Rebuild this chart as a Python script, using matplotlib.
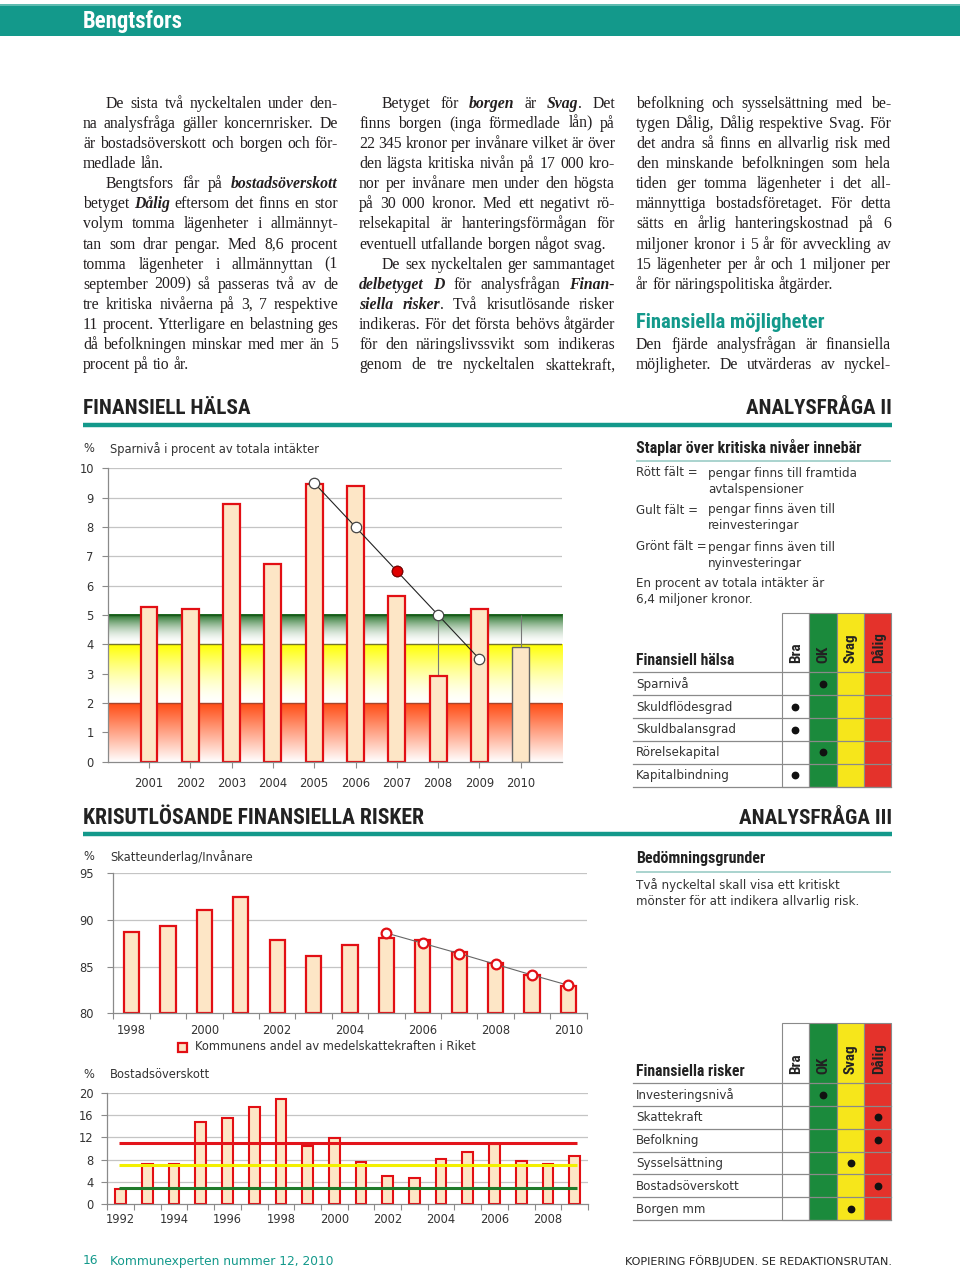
import numpy as np
import matplotlib
matplotlib.use("Agg")
import matplotlib.pyplot as plt
from matplotlib.patches import Rectangle
from matplotlib.font_manager import FontProperties, fontManager
from matplotlib import colors as mcolors

# ------------------------------------------------------------------ data
spar_years = [2001, 2002, 2003, 2004, 2005, 2006, 2007, 2008, 2009, 2010]
spar_values = [5.28, 5.19, 8.78, 6.74, 9.45, 9.41, 5.66, 2.92, 5.19, 3.90]
spar_trend_years = [2005, 2006, 2007, 2008, 2009]
spar_trend_values = [9.5, 8.0, 6.5, 5.0, 3.5]
spar_highlight_year = 2007
spar_drop_years = [2008, 2010]
spar_levels = [2, 4, 5]
spar_yticks = [0, 1, 2, 3, 4, 5, 6, 7, 8, 9, 10]

skatt_years = [1998, 1999, 2000, 2001, 2002, 2003, 2004, 2005, 2006, 2007, 2008, 2009, 2010]
skatt_values = [88.7, 89.4, 91.1, 92.5, 87.9, 86.1, 87.3, 88.1, 87.9, 86.6, 85.4, 84.1, 82.9]
skatt_trend_years = [2005, 2006, 2007, 2008, 2009, 2010]
skatt_trend_values = [88.6, 87.5, 86.4, 85.25, 84.1, 83.0]
skatt_yticks = [80, 85, 90, 95]
skatt_xlabels = [1998, 2000, 2002, 2004, 2006, 2008, 2010]

bost_years = [1992, 1993, 1994, 1995, 1996, 1997, 1998, 1999, 2000,
              2001, 2002, 2003, 2004, 2005, 2006, 2007, 2008, 2009]
bost_values = [2.7, 7.2, 7.2, 14.8, 15.4, 17.4, 18.9, 10.4, 11.9,
               7.5, 5.0, 4.7, 8.1, 9.4, 10.8, 7.8, 7.2, 8.6]
bost_levels = [11, 7, 3]
bost_yticks = [0, 4, 8, 12, 16, 20]
bost_xlabels = [1992, 1994, 1996, 1998, 2000, 2002, 2004, 2006, 2008]

rating_cols = ["Bra", "OK", "Svag", "Dålig"]
halsa_rows = ["Sparnivå", "Skuldflödesgrad", "Skuldbalansgrad", "Rörelsekapital", "Kapitalbindning"]
halsa_ratings = ["OK", "Bra", "Bra", "OK", "Bra"]
risk_rows = ["Investeringsnivå", "Skattekraft", "Befolkning", "Sysselsättning", "Bostadsöverskott", "Borgen mm"]
risk_ratings = ["OK", "Dålig", "Dålig", "Svag", "Dålig", "Svag"]

# ------------------------------------------------------------------ style
W, H = 960, 1270
TEAL = "#13998b"
TXT = "#231f20"
CTXT = "#333333"
BAR_FILL = "#fde6c6"
BAR_EDGE = "#e20f14"
GRID = "#c4c4c4"
CFONT = "DejaVu Sans"
CSIZE = 8.3
SERIF = "Liberation Serif"
BODY = 11.3

# pick the narrowest available bold sans for headings
_avail = {(f.name, f.stretch) for f in fontManager.ttflist}
_names = {n for n, _ in _avail}
if "Liberation Sans Narrow" in _names:
    NB = dict(fontfamily="Liberation Sans Narrow", fontweight="bold")
elif "Roboto Condensed" in _names:
    NB = dict(fontfamily="Roboto Condensed", fontweight="bold")
elif ("DejaVu Sans", "condensed") in _avail:
    NB = dict(fontfamily="DejaVu Sans", fontstretch="condensed", fontweight="bold")
else:
    NB = dict(fontfamily="Roboto", fontweight="bold")

fig = plt.figure(figsize=(W / 100, H / 100), dpi=100)
ov = fig.add_axes([0, 0, 1, 1])
ov.set_xlim(0, W)
ov.set_ylim(H, 0)
ov.axis("off")
renderer = fig.canvas.get_renderer()


def rect_px(l, t, r, b):
    return [l / W, 1 - b / H, (r - l) / W, (b - t) / H]


def hline(x0, x1, y, color, lw):
    ov.plot([x0, x1], [y, y], color=color, lw=lw, solid_capstyle="butt")


def fit_size(s, target, **kw):
    t = ov.text(0, 0, s, fontsize=10, **kw)
    w = t.get_window_extent(renderer=renderer).width
    t.remove()
    return 10 * target / w


def fit_text(x, y, s, target, ha="left", color="#222", **kw):
    size = fit_size(s, target, **NB)
    return ov.text(x, y, s, fontsize=size, ha=ha, va="center", color=color, **NB, **kw)


# ------------------------------------------------------------------ header
ov.add_patch(Rectangle((0, 4), W, 32, fc=TEAL, ec="none"))
hline(0, W, 4.5, "#6fc2b8", 1.2)
fit_text(83, 21.5, "Bengtsfors", 100, color="white")

# ------------------------------------------------------------------ body text
fp_reg = FontProperties(family=SERIF, size=BODY)
fp_bi = FontProperties(family=SERIF, size=BODY, weight="bold", style="italic")


def measure(s, fp):
    t = ov.text(0, 0, s, fontproperties=fp)
    w = t.get_window_extent(renderer=renderer).width
    t.remove()
    return w


space_w = measure("a a", fp_reg) - measure("aa", fp_reg)


def parse_words(line):
    words, cur, buf, bold = [], [], "", False
    for ch in line:
        if ch == "*":
            if buf:
                cur.append((buf, bold))
                buf = ""
            bold = not bold
        elif ch == " ":
            if buf:
                cur.append((buf, bold))
                buf = ""
            if cur:
                words.append(cur)
                cur = []
        else:
            buf += ch
    if buf:
        cur.append((buf, bold))
    if cur:
        words.append(cur)
    return words


def draw_line(x0, x1, yb, line, indent, justify):
    words = parse_words(line)
    widths = [[measure(s, fp_bi if b else fp_reg) for s, b in w] for w in words]
    totals = [sum(ws) for ws in widths]
    x = x0 + (23 if indent else 0)
    if justify and len(words) > 1:
        gap = (x1 - x - sum(totals)) / (len(words) - 1)
        gap = max(gap, space_w * 0.4)
    else:
        gap = space_w
    for w, ws in zip(words, widths):
        for (s, b), wi in zip(w, ws):
            ov.text(x, yb, s, fontproperties=(fp_bi if b else fp_reg), ha="left",
                    va="baseline", color=TXT)
            x += wi
        x += gap


col1 = [
    ("De sista två nyckeltalen under den-", True, True),
    ("na analysfråga gäller koncernrisker. De", False, True),
    ("är bostadsöverskott och borgen och för-", False, True),
    ("medlade lån.", False, False),
    ("Bengtsfors får på *bostadsöverskott*", True, True),
    ("betyget *Dålig* eftersom det finns en stor", False, True),
    ("volym tomma lägenheter i allmännyt-", False, True),
    ("tan som drar pengar. Med 8,6 procent", False, True),
    ("tomma lägenheter i allmännyttan (1", False, True),
    ("september 2009) så passeras två av de", False, True),
    ("tre kritiska nivåerna på 3, 7 respektive", False, True),
    ("11 procent. Ytterligare en belastning ges", False, True),
    ("då befolkningen minskar med mer än 5", False, True),
    ("procent på tio år.", False, False),
]
col2 = [
    ("Betyget för *borgen* är *Svag*. Det", True, True),
    ("finns borgen (inga förmedlade lån) på", False, True),
    ("22 345 kronor per invånare vilket är över", False, True),
    ("den lägsta kritiska nivån på 17 000 kro-", False, True),
    ("nor per invånare men under den högsta", False, True),
    ("på 30 000 kronor. Med ett negativt rö-", False, True),
    ("relsekapital är hanteringsförmågan för", False, True),
    ("eventuell utfallande borgen något svag.", False, False),
    ("De sex nyckeltalen ger sammantaget", True, True),
    ("*delbetyget D* för analysfrågan *Finan-*", False, True),
    ("*siella risker*. Två krisutlösande risker", False, True),
    ("indikeras. För det första behövs åtgärder", False, True),
    ("för den näringslivssvikt som indikeras", False, True),
    ("genom de tre nyckeltalen skattekraft,", False, True),
]
col3 = [
    ("befolkning och sysselsättning med be-", False, True),
    ("tygen Dålig, Dålig respektive Svag. För", False, True),
    ("det andra så finns en allvarlig risk med", False, True),
    ("den minskande befolkningen som hela", False, True),
    ("tiden ger tomma lägenheter i det all-", False, True),
    ("männyttiga bostadsföretaget. För detta", False, True),
    ("sätts en årlig hanteringskostnad på 6", False, True),
    ("miljoner kronor i 5 år för avveckling av", False, True),
    ("15 lägenheter per år och 1 miljoner per", False, True),
    ("år för näringspolitiska åtgärder.", False, False),
]
col3b = [
    ("Den fjärde analysfrågan är finansiella", False, True),
    ("möjligheter. De utvärderas av nyckel-", False, True),
]

LS = 20.15
B0 = 107.5
for (x0, x1), lines in [((83, 338), col1), ((359, 615), col2), ((636, 891), col3)]:
    for i, (ln, ind, just) in enumerate(lines):
        draw_line(x0, x1, B0 + i * LS, ln, ind, just)
fit_text(636, 323, "Finansiella möjligheter", 189, color=TEAL)
for i, (ln, ind, just) in enumerate(col3b):
    draw_line(636, 891, B0 + (12 + i) * LS, ln, ind, just)


# ------------------------------------------------------------------ section headings
def section(y, left, lw_, right, rw_, rule_y):
    fit_text(83, y, left, lw_)
    fit_text(892, y, right, rw_, ha="right")
    hline(83, 892, rule_y, TEAL, 3.2)


section(408, "FINANSIELL HÄLSA", 167, "ANALYSFRÅGA II", 145, 425)
section(818, "KRISUTLÖSANDE FINANSIELLA RISKER", 340, "ANALYSFRÅGA III", 152, 833.5)


def style_axis(ax):
    ax.set_facecolor("none")
    for s in ["top", "right"]:
        ax.spines[s].set_visible(False)
    for s in ["left", "bottom"]:
        ax.spines[s].set_color("#8a8a8a")
        ax.spines[s].set_linewidth(0.9)
    ax.tick_params(axis="both", which="both", colors="#8a8a8a", labelcolor=CTXT,
                   labelsize=CSIZE, direction="out", length=4, width=0.8)
    for lab in ax.get_xticklabels() + ax.get_yticklabels():
        lab.set_fontfamily(CFONT)


# ------------------------------------------------------------------ chart 1
ov.text(83, 449, "%", fontfamily=CFONT, fontsize=CSIZE, color=CTXT, va="center")
ov.text(110, 449, "Sparnivå i procent av totala intäkter", fontfamily=CFONT,
        fontsize=CSIZE, color=CTXT, va="center")
ax1 = fig.add_axes(rect_px(107.7, 468.3, 562, 761.7))
x1lim = (spar_years[0] - 1, spar_years[-1] + 1)


def band(ax, lo, hi, color, power, xl):
    t = np.linspace(0, 1, 200) ** power
    rgb = np.array(mcolors.to_rgb(color))
    img = (1 - t[:, None]) + t[:, None] * rgb[None, :]
    ax.imshow(img[:, None, :], extent=(xl[0], xl[1], lo, hi), origin="lower",
              aspect="auto", zorder=0.5, interpolation="bilinear")


band_styles = [("#ff4c14", 1.0, "#a8452a"), ("#ffff00", 1.5, "#77772a"), ("#1b6b1f", 1.8, "#1b5a1d")]
lows = [0] + spar_levels[:-1]
for lo, hi, (c, p, lc) in zip(lows, spar_levels, band_styles):
    band(ax1, lo, hi, c, p, x1lim)
    ax1.axhline(hi, color=lc, lw=1.0, zorder=0.8)
for yv in spar_yticks:
    if yv > spar_levels[-1]:
        ax1.axhline(yv, color=GRID, lw=0.9, zorder=0.3)
bar_edges = [BAR_EDGE] * (len(spar_years) - 1) + ["#666666"]
bar_lws = [1.6] * (len(spar_years) - 1) + [1.0]
ax1.bar(spar_years, spar_values, width=0.41, color=BAR_FILL, edgecolor=bar_edges,
        linewidth=bar_lws, zorder=2)
for yr in spar_drop_years:
    ax1.vlines(yr, spar_values[spar_years.index(yr)], spar_levels[-1], color="#777",
               lw=0.8, zorder=1.5)
ax1.plot(spar_trend_years, spar_trend_values, color="#222", lw=0.8, zorder=3)
ax1.plot(spar_trend_years, spar_trend_values, "o", ms=7.5, mfc="white", mec="#444",
         mew=0.9, zorder=4)
hi_idx = spar_trend_years.index(spar_highlight_year)
ax1.plot([spar_highlight_year], [spar_trend_values[hi_idx]], "o", ms=7.5, mfc="#e00000",
         mec="#800", mew=0.9, zorder=5)
ax1.set_xlim(*x1lim)
ax1.set_ylim(0, 10)
ax1.set_yticks(spar_yticks)
ax1.set_xticks(spar_years)
ax1.set_xticklabels([str(y) for y in spar_years])
style_axis(ax1)
ax1.tick_params(axis="x", pad=7)
ax1.tick_params(axis="y", pad=6)

# ------------------------------------------------------------------ panel text
PS = 8.6
fit_text(636, 447, "Staplar över kritiska nivåer innebär", 226)
hline(636, 891, 460.5, "#a9d3ce", 1.4)
panel = [
    (473, "Rött fält =", "pengar finns till framtida"),
    (489, "", "avtalspensioner"),
    (510, "Gult fält =", "pengar finns även till"),
    (526, "", "reinvesteringar"),
    (547, "Grönt fält =", "pengar finns även till"),
    (563, "", "nyinvesteringar"),
]
for y, a, b in panel:
    if a:
        ov.text(636, y, a, fontfamily=CFONT, fontsize=PS, color=CTXT, va="center")
    ov.text(708, y, b, fontfamily=CFONT, fontsize=PS, color=CTXT, va="center")
ov.text(636, 583, "En procent av totala intäkter är", fontfamily=CFONT, fontsize=PS,
        color=CTXT, va="center")
ov.text(636, 600, "6,4 miljoner kronor.", fontfamily=CFONT, fontsize=PS, color=CTXT,
        va="center")

fit_text(636, 858, "Bedömningsgrunder", 130)
hline(636, 891, 872, "#a9d3ce", 1.4)
ov.text(636, 885, "Två nyckeltal skall visa ett kritiskt", fontfamily=CFONT, fontsize=PS,
        color=CTXT, va="center")
ov.text(636, 901, "mönster för att indikera allvarlig risk.", fontfamily=CFONT,
        fontsize=PS, color=CTXT, va="center")

# ------------------------------------------------------------------ tables
ROT_SIZE = fit_size("Dålig", 31, **NB)


def draw_table(top, hdr_bottom, row_h, title, title_w, rows, ratings):
    col_x = [781.7, 809, 836.7, 864.3, 891]
    fills = ["white", "#1b8a3c", "#f6e61b", "#e4322b"]
    bottom = hdr_bottom + row_h * len(rows)
    for i, c in enumerate(fills):
        ov.add_patch(Rectangle((col_x[i], top), col_x[i + 1] - col_x[i], bottom - top,
                               fc=c, ec="#8a8a8a", lw=0.8, zorder=1))
        ov.text((col_x[i] + col_x[i + 1]) / 2 + 0.5, hdr_bottom - 9, rating_cols[i],
                rotation=90, ha="center", va="bottom", fontsize=ROT_SIZE, zorder=3,
                color="#222", **NB)
    fit_text(636, hdr_bottom - 12, title, title_w, zorder=3)
    for k in range(len(rows) + 1):
        ov.plot([633, 891], [hdr_bottom + k * row_h] * 2, color="#8a8a8a", lw=0.9, zorder=2)
    for k, (name, r) in enumerate(zip(rows, ratings)):
        yc = hdr_bottom + (k + 0.5) * row_h
        ov.text(636, yc + 0.5, name, fontfamily=CFONT, fontsize=PS, color=CTXT,
                va="center", zorder=3)
        ci = rating_cols.index(r)
        ov.plot([(col_x[ci] + col_x[ci + 1]) / 2], [yc], "o", ms=4.6, color="#111",
                zorder=4)


draw_table(612.7, 672.3, 22.88, "Finansiell hälsa", 98, halsa_rows, halsa_ratings)
draw_table(1023.3, 1083.3, 22.78, "Finansiella risker", 109, risk_rows, risk_ratings)

# ------------------------------------------------------------------ chart 2
ov.text(83, 857, "%", fontfamily=CFONT, fontsize=CSIZE, color=CTXT, va="center")
ov.text(110, 857, "Skatteunderlag/Invånare", fontfamily=CFONT, fontsize=CSIZE,
        color=CTXT, va="center")
ax2 = fig.add_axes(rect_px(113.3, 873.3, 586.7, 1013.3))
for yv in skatt_yticks[1:]:
    ax2.axhline(yv, color=GRID, lw=0.9, zorder=0.3)
ax2.bar(skatt_years, [v - skatt_yticks[0] for v in skatt_values], bottom=skatt_yticks[0],
        width=0.42, color=BAR_FILL, edgecolor=BAR_EDGE, linewidth=1.6, zorder=2)
ax2.plot(skatt_trend_years, skatt_trend_values, color="#666", lw=0.8, zorder=3)
ax2.plot(skatt_trend_years, skatt_trend_values, "o", ms=7, mfc="white", mec=BAR_EDGE,
         mew=1.6, zorder=4)
ax2.set_xlim(skatt_years[0] - 0.5, skatt_years[-1] + 0.5)
ax2.set_ylim(skatt_yticks[0], skatt_yticks[-1])
ax2.set_yticks(skatt_yticks)
ax2.set_xticks(skatt_xlabels)
ax2.set_xticklabels([str(y) for y in skatt_xlabels])
ax2.set_xticks([y - 0.5 for y in skatt_years] + [skatt_years[-1] + 0.5], minor=True)
style_axis(ax2)
ax2.tick_params(axis="x", which="major", length=0, pad=8)
ax2.tick_params(axis="x", which="minor", length=4)
ax2.tick_params(axis="y", pad=10)

# legend
ov.add_patch(Rectangle((177.5, 1042.5), 9, 9, fc=BAR_FILL, ec=BAR_EDGE, lw=1.6))
ov.text(195, 1047, "Kommunens andel av medelskattekraften i Riket", fontfamily=CFONT,
        fontsize=CSIZE, color=CTXT, va="center")

# ------------------------------------------------------------------ chart 3
ov.text(83, 1075, "%", fontfamily=CFONT, fontsize=CSIZE, color=CTXT, va="center")
ov.text(110, 1075, "Bostadsöverskott", fontfamily=CFONT, fontsize=CSIZE, color=CTXT,
        va="center")
ax3 = fig.add_axes(rect_px(107.3, 1092.7, 588, 1204.3))
for yv in bost_yticks[1:]:
    ax3.axhline(yv, color=GRID, lw=0.9, zorder=0.3)
ax3.bar(bost_years, bost_values, width=0.4, color=BAR_FILL, edgecolor=BAR_EDGE,
        linewidth=1.5, zorder=2)
for lvl, c in zip(bost_levels, ["#e3141b", "#f3f000", "#1f7a2a"]):
    ax3.hlines(lvl, bost_years[0] - 0.08, bost_years[-1] + 0.08, color=c, lw=2.2, zorder=3)
ax3.set_xlim(bost_years[0] - 0.5, bost_years[-1] + 0.5)
ax3.set_ylim(bost_yticks[0], bost_yticks[-1])
ax3.set_yticks(bost_yticks)
ax3.set_xticks(bost_xlabels)
ax3.set_xticklabels([str(y) for y in bost_xlabels])
ax3.set_xticks([y - 0.5 for y in bost_years] + [bost_years[-1] + 0.5], minor=True)
style_axis(ax3)
ax3.tick_params(axis="x", which="major", length=0, pad=6)
ax3.tick_params(axis="x", which="minor", length=4)
ax3.tick_params(axis="y", pad=6)

# ------------------------------------------------------------------ footer
ov.text(83, 1261, "16", fontfamily=CFONT, fontsize=8.8, color=TEAL, va="center")
ov.text(110, 1261, "Kommunexperten nummer 12, 2010", fontfamily=CFONT, fontsize=8.8,
        color=TEAL, va="center")
ov.text(892, 1261, "KOPIERING FÖRBJUDEN. SE REDAKTIONSRUTAN.", fontfamily=CFONT,
        fontsize=8.0, color="#222", va="center", ha="right")

fig.savefig("out.png", dpi=100)
